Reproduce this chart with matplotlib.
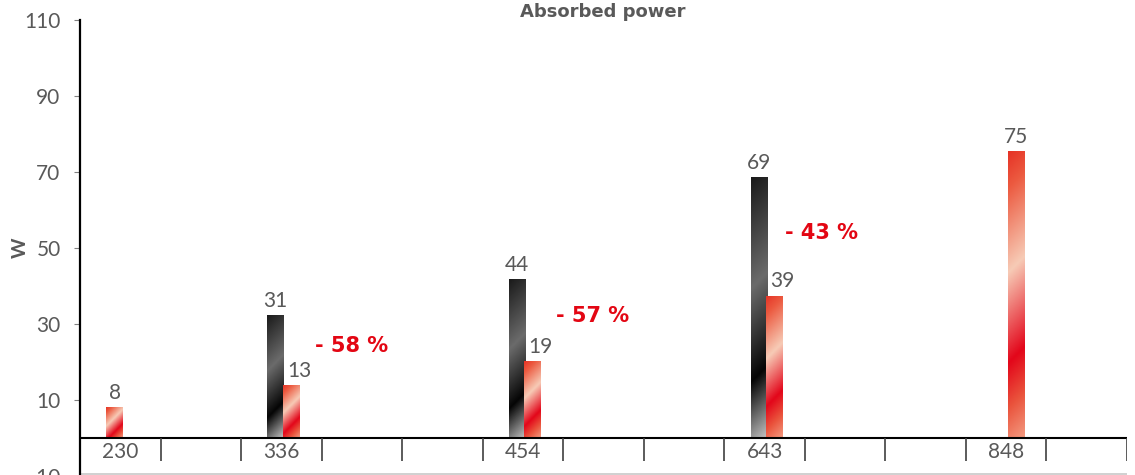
import numpy as np
import matplotlib.pyplot as plt
from matplotlib.colors import LinearSegmentedColormap

plt.rcParams["font.family"] = ["Lato", "DejaVu Sans"]
plt.rcParams["image.composite_image"] = False

# ---------------------------------------------------------------------------
# Data (bar heights as drawn, labels as printed on the chart)
# ---------------------------------------------------------------------------
categories = ["230", "", "336", "", "", "454", "", "", "643", "", "", "848", ""]

old_idx = [2, 5, 8]            # dark bars (previous model)
old_vals = [32.3, 41.8, 68.6]
old_labels = ["31", "44", "69"]

new_idx = [2, 5, 8, 11]        # red bars (new model)
new_vals = [13.9, 20.2, 37.4, 75.4]
new_labels = ["13", "19", "39", "75"]

single_idx = [0]               # red bar standing alone
single_vals = [8.1]
single_labels = ["8"]

reductions = ["- 58 %", "- 57 %", "- 43 %"]

# ---------------------------------------------------------------------------
# Style
# ---------------------------------------------------------------------------
GREY_TXT = "#595959"
RED_TXT = "#e30613"
BAR_W = 0.205
OLD_DX = -0.07
NEW_DX = 0.12
PCT_DX = [0.87, 0.86, 0.71]

red_cmap = LinearSegmentedColormap.from_list(
    "red_grad",
    [(0.0, "#e63326"), (0.12, "#ec5a40"), (0.40, "#f7cbb6"),
     (0.70, "#e3061a"), (0.85, "#ea533c"), (1.0, "#f39a80")])
dark_cmap = LinearSegmentedColormap.from_list(
    "dark_grad",
    [(0.0, "#1a1a1a"), (0.40, "#6b6b6b"), (0.74, "#050505"), (1.0, "#c4c4c4")])

fig = plt.figure(figsize=(11.35, 4.75), dpi=100)
ax = fig.add_axes([80 / 1135, -1 / 475, 1047 / 1135, 456 / 475])
ax.set_xlim(-0.5, len(categories) - 0.5)
ax.set_ylim(-10, 110)


def gradient_bars(xs, vals, labels, dx, cmap, label_dx):
    bars = ax.bar(np.array(xs) + dx, vals, width=BAR_W, facecolor="none",
                  edgecolor="none", zorder=3)
    sx = ax.transData.transform((1, 0))[0] - ax.transData.transform((0, 0))[0]
    sy = ax.transData.transform((0, 1))[1] - ax.transData.transform((0, 0))[1]
    for b in bars:
        x0, w, h = b.get_x(), b.get_width(), b.get_height()
        wpx, hpx = w * sx, h * sy
        fy = np.linspace(0, 1, 300)[:, None]
        fx = np.linspace(0, 1, 30)[None, :]
        t = (fy * hpx + fx * wpx) / (hpx + wpx)
        im = ax.imshow(t, cmap=cmap, vmin=0, vmax=1, origin="upper",
                       extent=[x0, x0 + w, 0, h], aspect="auto", zorder=3,
                       interpolation="bilinear")
        im.set_clip_path(b)
    for b, v, lab, ldx in zip(bars, vals, labels, label_dx):
        ax.text(b.get_x() + b.get_width() / 2 + ldx, v + 1.2, lab,
                ha="center", va="bottom", fontsize=15, color=GREY_TXT,
                zorder=6)
    return bars


gradient_bars(old_idx, old_vals, old_labels, OLD_DX, dark_cmap,
              [0.0] * len(old_idx))
# labels of red bars sitting next to a dark bar are nudged right
gradient_bars(new_idx, new_vals, new_labels, NEW_DX, red_cmap,
              [0.1 if c in old_idx else 0.0 for c in new_idx])
gradient_bars(single_idx, single_vals, single_labels, OLD_DX, red_cmap,
              [0.0] * len(single_idx))

# reduction labels, placed between old and new values
for i, (c, o, n) in enumerate(zip(old_idx, old_vals, new_vals)):
    ax.text(c + PCT_DX[i], (o + n) / 2 + 1, reductions[i], ha="center",
            va="center", fontsize=15, fontweight="bold", color=RED_TXT,
            family="DejaVu Sans")

# category axis drawn at zero with separators
ax.axhline(0, color="black", lw=1.5, zorder=5)
bounds = np.arange(len(categories) + 1) - 0.5
ax.vlines(bounds[1:], -6.1, 0, color="#404040", lw=1.2, zorder=5)
for i, lab in enumerate(categories):
    ax.text(i, -3.8, lab, ha="center", va="center", fontsize=15,
            color=GREY_TXT)
ax.axhline(-9.4, color="#c8c8c8", lw=1.2)

# value axis
ax.set_xticks([])
ax.set_yticks(np.arange(-10, 111, 20))
ax.tick_params(axis="y", length=4, width=0.8, color="#808080", pad=10,
               labelsize=15, labelcolor=GREY_TXT)
for s in ["top", "right", "bottom"]:
    ax.spines[s].set_visible(False)
ax.spines["left"].set_color("black")
ax.spines["left"].set_linewidth(1.6)
ax.patch.set_visible(False)

fig.text(0.531, 0.974, "Absorbed power", ha="center", va="center",
         fontsize=13, fontweight="bold", color=GREY_TXT,
         family="DejaVu Sans")
fig.text(0.0176, 0.478, "W", ha="center", va="center", rotation=90,
         fontsize=14, fontweight="bold", color=GREY_TXT)

fig.savefig("out.png", dpi=100)
